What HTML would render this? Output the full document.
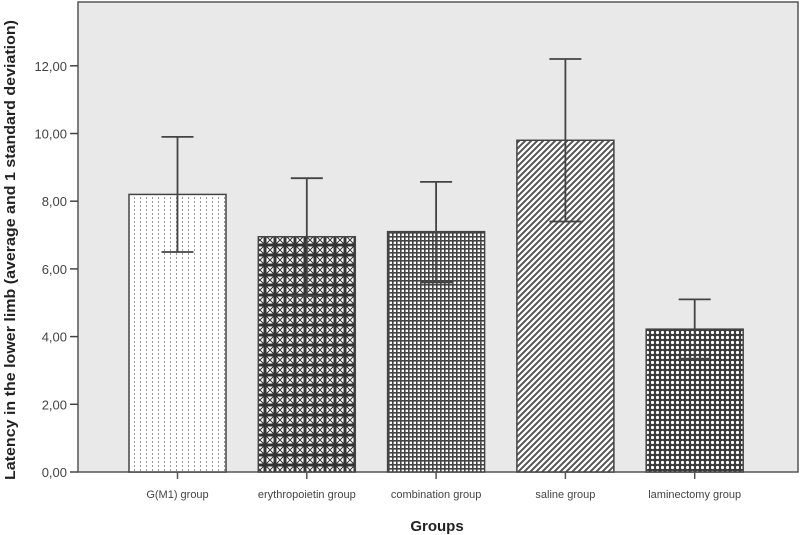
<!DOCTYPE html>
<html><head><meta charset="utf-8"><style>
body{margin:0;background:#fff;width:800px;height:535px;overflow:hidden}
svg{display:block;font-family:"Liberation Sans",sans-serif}
</style></head><body>
<svg id="c" width="800" height="535">
<defs>
<pattern id="p0" width="6" height="4" patternUnits="userSpaceOnUse"><rect width="6" height="4" fill="#fff"/><rect x="2" y="1" width="1" height="2" fill="#999"/></pattern>
<pattern id="p1" width="10" height="10" patternUnits="userSpaceOnUse"><rect width="10" height="10" fill="#fff"/><path d="M5 0V10M0 5H10" stroke="#333" stroke-width="3"/><path d="M0 0L10 10M10 0L0 10" stroke="#333" stroke-width="1"/></pattern>
<pattern id="p2" width="4" height="4" patternUnits="userSpaceOnUse"><rect width="4" height="4" fill="#fff"/><rect width="4" height="1.6" fill="#444"/><rect width="1.6" height="4" fill="#444"/></pattern>
<pattern id="p3" width="6" height="6" patternUnits="userSpaceOnUse"><rect width="6" height="6" fill="#fff"/><path d="M-1 7 L7 -1 M-1 1 L1 -1 M5 7 L7 5" stroke="#555" stroke-width="2"/></pattern>
<pattern id="p4" width="5" height="5" patternUnits="userSpaceOnUse"><rect width="5" height="5" fill="#3a3a3a"/><circle cx="2.5" cy="2.5" r="1.6" fill="#fff"/></pattern>
</defs>
<rect x="78" y="2" width="720" height="470" fill="#e9e9e9" stroke="#555" stroke-width="1.5"/>
<g id="g"></g>
<text x="437" y="531" text-anchor="middle" font-size="15" font-weight="bold" fill="#222">Groups</text>
<text transform="translate(15,250) rotate(-90)" text-anchor="middle" font-size="14.5" font-weight="bold" fill="#222" textLength="460" lengthAdjust="spacingAndGlyphs">Latency in the lower limb (average and 1 standard deviation)</text>
</svg>
<script>
const categories=["G(M1) group","erythropoietin group","combination group","saline group","laminectomy group"];
const means=[8.2,6.95,7.1,9.8,4.22];
const lows=[6.5,5.2,5.6,7.4,3.35];
const highs=[9.9,8.68,8.57,12.2,5.1];
const ticks=[0,2,4,6,8,10,12];
const tickLabels=["0,00","2,00","4,00","6,00","8,00","10,00","12,00"];
const NS="http://www.w3.org/2000/svg",g=document.getElementById("g");
const y=v=>472-v*33.85;
const x=i=>177.5+i*129.3;
function mk(t,a,p){const e=document.createElementNS(NS,t);for(const k in a)e.setAttribute(k,a[k]);(p||g).appendChild(e);return e;}
ticks.forEach((t,i)=>{
 const l=mk("line",{x1:70,x2:78,y1:y(t),y2:y(t),stroke:"#444","stroke-width":1.5});
 
 
 const tx=mk("text",{x:67,y:y(t)+5,"text-anchor":"end","font-size":13,fill:"#444"});
 tx.textContent=tickLabels[i];
 
 
});
categories.forEach((c,i)=>{
 const cx=x(i);
 const b=mk("rect",{x:cx-48.5,y:y(means[i]),width:97,height:472-y(means[i]),fill:`url(#p${i})`,stroke:"#444","stroke-width":1.5});
 
 
 const e=mk("path",{d:`M${cx} ${y(lows[i])}V${y(highs[i])}M${cx-16} ${y(highs[i])}H${cx+16}M${cx-16} ${y(lows[i])}H${cx+16}`,stroke:"#444","stroke-width":1.8,fill:"none"});
 
 
 const tk=mk("line",{x1:cx,x2:cx,y1:472,y2:479,stroke:"#555","stroke-width":1.5});
 
 
 const t=mk("text",{x:cx,y:498,"text-anchor":"middle","font-size":11,fill:"#444"});
 t.textContent=c;
 
 
});
</script>
</body></html>
